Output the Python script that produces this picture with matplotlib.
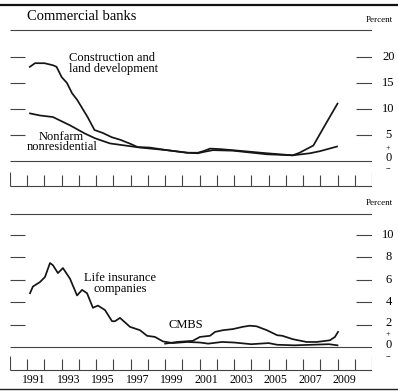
import matplotlib.pyplot as plt
from matplotlib.lines import Line2D

plt.rcParams['font.family'] = ['Liberation Serif', 'DejaVu Serif']

# commercial banks, percent
construction_yr = [1991.15, 1991.45, 1992.0, 1992.5, 1992.7, 1993.0, 1993.3, 1993.6, 1993.9,
                   1994.5, 1994.9, 1995.4, 1995.9, 1996.4, 1997.0, 1997.4, 1998.1, 1999.1,
                   2000.3, 2000.9, 2001.3, 2001.6, 2002.2, 2002.9, 2004.9, 2006.4, 2006.8,
                   2007.6, 2008.2, 2009.0]
construction = [18.1, 18.8, 18.8, 18.4, 18.1, 16.1, 15.0, 13.0, 11.7,
                8.4, 5.9, 5.3, 4.5, 4.0, 3.2, 2.6, 2.5, 2.0,
                1.5, 1.5, 1.9, 2.3, 2.2, 2.0, 1.4, 1.0, 1.5,
                2.9, 6.4, 11.0]

nonfarm_yr = [1991.16, 1991.74, 1992.49, 1993.48, 1994.35, 1994.93, 1995.8, 1996.67, 1997.54,
              1999.1, 2000.27, 2000.9, 2001.3, 2001.77, 2002.93, 2004.9, 2006.4, 2007.4,
              2007.98, 2008.97]
nonfarm = [9.1, 8.7, 8.4, 6.8, 5.2, 4.3, 3.3, 2.9, 2.5,
           2.0, 1.5, 1.4, 1.7, 2.0, 1.9, 1.2, 1.0, 1.4,
           1.8, 2.7]

# life insurance companies and CMBS, percent
life_yr = [1991.16, 1991.33, 1991.74, 1992.03, 1992.32, 1992.49, 1992.78, 1993.07, 1993.48,
           1993.89, 1994.18, 1994.47, 1994.81, 1995.10, 1995.51, 1995.92, 1996.09, 1996.38,
           1996.67, 1996.96, 1997.54, 1997.95, 1998.41, 1998.87, 1999.45, 2000.27, 2001.02,
           2001.5, 2002.3, 2003.0, 2004.0, 2005.0, 2005.5, 2006.5, 2007.5, 2008.5, 2009.0]
life = [4.8, 5.4, 5.8, 6.25, 7.5, 7.3, 6.6, 7.05, 6.1,
        4.6, 5.1, 4.8, 3.5, 3.7, 3.3, 2.3, 2.3, 2.6,
        2.2, 1.8, 1.5, 1.0, 0.9, 0.5, 0.35, 0.45, 0.4,
        0.3, 0.45, 0.4, 0.25, 0.35, 0.2, 0.15, 0.2, 0.25, 0.15]

cmbs_yr = [1999.0, 1999.69, 2000.6, 2001.02, 2001.6, 2001.9, 2002.35, 2002.93, 2003.5, 2003.9,
           2004.3, 2004.9, 2005.5, 2005.8, 2006.4, 2007.2, 2007.8, 2008.56, 2008.85, 2009.03]
cmbs = [0.3, 0.45, 0.55, 0.9, 1.0, 1.35, 1.5, 1.6, 1.8, 1.9,
        1.85, 1.5, 1.05, 1.0, 0.7, 0.45, 0.45, 0.6, 0.9, 1.35]

years = list(range(1991, 2011, 2))
top_ticks = [20, 15, 10, 5]
bot_ticks = [10, 8, 6, 4, 2]

W, H = 398, 391
fig = plt.figure(figsize=(W / 100, H / 100), dpi=100)


def panel(top_px, bot_px, zero_px, scale):
    ax = fig.add_axes([10 / W, 1 - bot_px / H, 362 / W, (bot_px - top_px) / H])
    ax.set_xlim(1990, 2011)
    ax.set_ylim((zero_px - bot_px) / scale, (zero_px - top_px) / scale)
    ax.axis('off')
    return ax


def frame(ax, top_val, box_bot, box_tick, box_end, ticks):
    c, lw = '#444444', 0.8
    ax.hlines([top_val, 0, box_bot], 1990, 2011, color=c, lw=lw)
    ax.vlines(range(1991, 2011), box_bot, box_tick, color=c, lw=lw)
    ax.vlines([1990, 2011], box_bot, box_end, color=c, lw=lw)
    ax.hlines(ticks, 1990, 1990.85, color=c, lw=lw)
    ax.hlines(ticks, 2010.1, 2011, color=c, lw=lw)


line_kw = dict(color='#151515', lw=1.25)

# top panel
s1 = 5.175
ax1 = panel(26, 192, 160.5, s1)
frame(ax1, (160.5 - 30) / s1, (160.5 - 186) / s1, (160.5 - 175) / s1, (160.5 - 172) / s1, top_ticks)
ax1.plot(construction_yr, construction, **line_kw)
ax1.plot(nonfarm_yr, nonfarm, **line_kw)
for t in top_ticks:
    ax1.text(2011.95, t, str(t), ha='center', va='center', fontsize=9)
ax1.text(2011.95, 2.4, '+', ha='center', va='center', fontsize=6)
ax1.text(2011.95, 0.5, '0', ha='center', va='center', fontsize=9)
ax1.text(2011.95, -1.8, '\u2212', ha='center', va='center', fontsize=6)
ax1.text(1993.45, 18.8, 'Construction and\nland development', ha='left', va='center',
         fontsize=9, linespacing=0.85)
ax1.text(1993.0, 3.6, 'Nonfarm\nnonresidential', ha='center', va='center',
         fontsize=9, linespacing=0.85)

# bottom panel
s2 = 11.2
ax2 = panel(208, 376, 347, s2)
frame(ax2, (347 - 214) / s2, (347 - 370) / s2, (347 - 359) / s2, (347 - 356) / s2, bot_ticks)
ax2.plot(life_yr, life, **line_kw)
ax2.plot(cmbs_yr, cmbs, **line_kw)
for t in bot_ticks:
    ax2.text(2011.95, t + (0.15 if t == 2 else 0), str(t), ha='center', va='center', fontsize=9)
ax2.text(2011.95, 1.15, '+', ha='center', va='center', fontsize=6)
ax2.text(2011.95, 0.15, '0', ha='center', va='center', fontsize=9)
ax2.text(2011.95, -0.9, '\u2212', ha='center', va='center', fontsize=6)
for y in years:
    ax2.text(y + 0.4, (347 - 380) / s2, str(y), ha='center', va='center', fontsize=8.5)
ax2.text(1996.4, 5.65, 'Life insurance\ncompanies', ha='center', va='center',
         fontsize=9, linespacing=0.85)
ax2.text(2000.2, 1.95, 'CMBS', ha='center', va='center', fontsize=9)

# headings
fig.text(27 / W, 1 - 17 / H, 'Commercial banks', ha='left', va='center', fontsize=10.5)
fig.text(379 / W, 1 - 20 / H, 'Percent', ha='center', va='center', fontsize=6.5)
fig.text(379 / W, 1 - 203 / H, 'Percent', ha='center', va='center', fontsize=6.5)

# heavy rules along the top and bottom edges
fig.add_artist(Line2D([0, 1], [1 - 5 / H, 1 - 5 / H], color='#111111', lw=1.6))
fig.add_artist(Line2D([0, 1], [1 - 389 / H, 1 - 389 / H], color='#222222', lw=1.0))

fig.savefig('out.png', dpi=100)
